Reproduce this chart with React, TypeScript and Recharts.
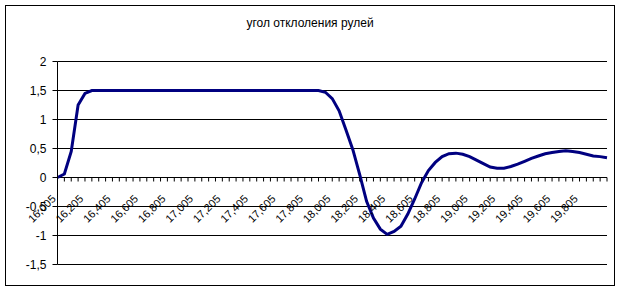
import React from "react";
import {
  LineChart,
  Line,
  XAxis,
  YAxis,
  CartesianGrid,
  ReferenceLine,
} from "recharts";

const TITLE = "угол отклоления рулей";

const CATEGORIES: string[] = [
  "16,005", "16,055", "16,105", "16,155", "16,205", "16,255", "16,305", "16,355", "16,405", "16,455",
  "16,505", "16,555", "16,605", "16,655", "16,705", "16,755", "16,805", "16,855", "16,905", "16,955",
  "17,005", "17,055", "17,105", "17,155", "17,205", "17,255", "17,305", "17,355", "17,405", "17,455",
  "17,505", "17,555", "17,605", "17,655", "17,705", "17,755", "17,805", "17,855", "17,905", "17,955",
  "18,005", "18,055", "18,105", "18,155", "18,205", "18,255", "18,305", "18,355", "18,405", "18,455",
  "18,505", "18,555", "18,605", "18,655", "18,705", "18,755", "18,805", "18,855", "18,905", "18,955",
  "19,005", "19,055", "19,105", "19,155", "19,205", "19,255", "19,305", "19,355", "19,405", "19,455",
  "19,505", "19,555", "19,605", "19,655", "19,705", "19,755", "19,805", "19,855", "19,905", "19,955",
  "20,005",
];

const VALUES: number[] = [
  0, 0.06, 0.45, 1.25, 1.45, 1.5, 1.5, 1.5, 1.5, 1.5,
  1.5, 1.5, 1.5, 1.5, 1.5, 1.5, 1.5, 1.5, 1.5, 1.5,
  1.5, 1.5, 1.5, 1.5, 1.5, 1.5, 1.5, 1.5, 1.5, 1.5,
  1.5, 1.5, 1.5, 1.5, 1.5, 1.5, 1.5, 1.5, 1.5, 1.47,
  1.36, 1.15, 0.82, 0.48, 0.05, -0.41, -0.7, -0.89, -0.98, -0.93,
  -0.84, -0.63, -0.37, -0.09, 0.12, 0.26, 0.36, 0.41, 0.42, 0.4,
  0.36, 0.3, 0.24, 0.18, 0.16, 0.16, 0.19, 0.23, 0.28, 0.33,
  0.37, 0.41, 0.43, 0.45, 0.46, 0.45, 0.43, 0.4, 0.37, 0.36,
  0.34,
];

const X_LABELS: string[] = [
  "16,005", "16,205", "16,405", "16,605", "16,805", "17,005", "17,205", "17,405", "17,605", "17,805",
  "18,005", "18,205", "18,405", "18,605", "18,805", "19,005", "19,205", "19,405", "19,605", "19,805",
];

const Y_TICKS: number[] = [-1.5, -1, -0.5, 0, 0.5, 1, 1.5, 2];

const data = CATEGORIES.map((c, i) => ({ x: c, v: VALUES[i] }));

const W = 622;
const H = 292;
const M_TOP = 61.5;
const X_H = 27.5;
const M_LEFT = 7.5;
const M_RIGHT = 15;
const Y_W = 50;
const PLOT_H = H - M_TOP - X_H;
const Y_MIN = -1.5;
const Y_MAX = 2;
const ZERO_Y = M_TOP + (PLOT_H * (Y_MAX - 0)) / (Y_MAX - Y_MIN);
const FONT = "'Liberation Sans', Arial, sans-serif";

const XTick = (props: any) => {
  const { x, payload } = props;
  const label: string = payload?.value;
  const show = X_LABELS.includes(label);
  const tx = x - 1;
  const ty = ZERO_Y + 22;
  return (
    <g>
      <line x1={x} x2={x} y1={ZERO_Y} y2={ZERO_Y + 4} stroke="#000" strokeWidth={1} />
      {show && (
        <text
          x={tx}
          y={ty}
          transform={`rotate(-45 ${tx} ${ty})`}
          textAnchor="end"
          fontSize={11}
          fontFamily={FONT}
          fill="#000"
        >
          {label}
        </text>
      )}
    </g>
  );
};

export default function App() {
  return (
    <div
      style={{
        position: "absolute",
        left: 0,
        top: 0,
        width: W,
        height: H,
        background: "#fff",
        overflow: "hidden",
      }}
    >
      <div
        style={{
          position: "absolute",
          left: 5,
          top: 5,
          width: 610,
          height: 281,
          boxSizing: "border-box",
          border: "1px solid #000",
        }}
      />
      <svg
        width={W}
        height={H}
        style={{ position: "absolute", left: 0, top: 0, pointerEvents: "none" }}
      >
        <text
          x={310}
          y={27}
          textAnchor="middle"
          fontSize={12}
          fontFamily={FONT}
          fill="#000"
        >
          {TITLE}
        </text>
      </svg>
      <div style={{ position: "absolute", left: 0, top: 0 }}>
        <LineChart
          width={W}
          height={H}
          data={data}
          margin={{ top: M_TOP, right: M_RIGHT, bottom: 0, left: M_LEFT }}
        >
          <CartesianGrid vertical={false} stroke="#000" strokeWidth={1} />
          <XAxis
            dataKey="x"
            type="category"
            interval={0}
            height={X_H}
            axisLine={false}
            tickLine={false}
            tick={(p: any) => <XTick {...p} />}
          />
          <YAxis
            type="number"
            domain={[Y_MIN, Y_MAX]}
            ticks={Y_TICKS}
            interval={0}
            width={Y_W}
            axisLine={{ stroke: "#000", strokeWidth: 1 }}
            tickLine={{ stroke: "#000", strokeWidth: 1 }}
            tickSize={5}
            tickMargin={6}
            tick={{ fill: "#000", fontSize: 12, fontFamily: FONT }}
            tickFormatter={(v: number) => String(v).replace(".", ",")}
          />
          <ReferenceLine y={0} stroke="#000" strokeWidth={1} />
          <Line
            type="linear"
            dataKey="v"
            stroke="#000080"
            strokeWidth={3}
            dot={false}
            isAnimationActive={false}
          />
        </LineChart>
      </div>
    </div>
  );
}
